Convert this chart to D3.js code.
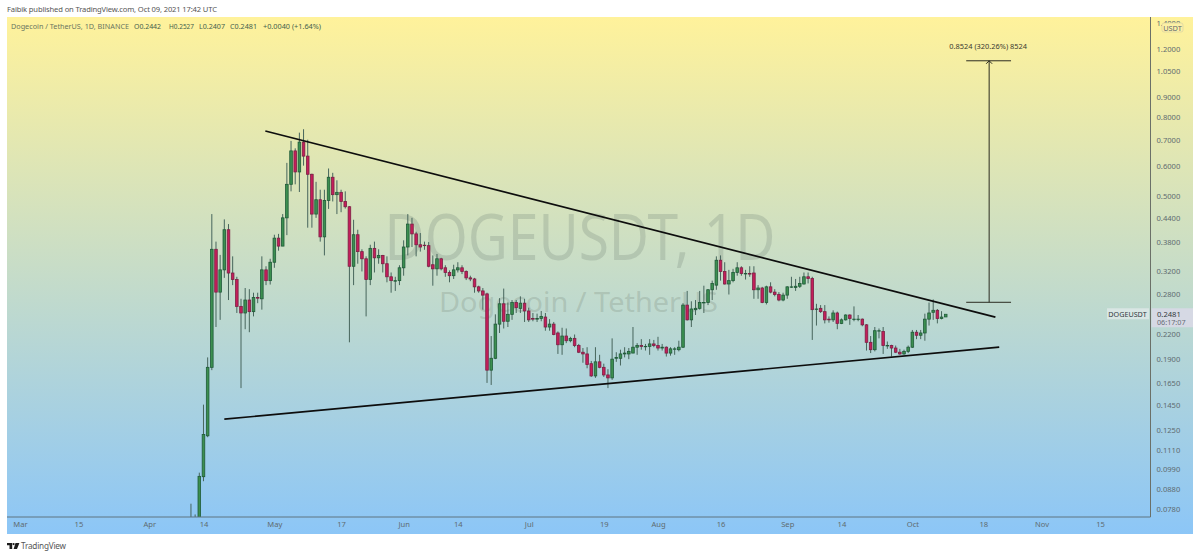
<!DOCTYPE html>
<html>
<head>
<meta charset="utf-8">
<script src="https://cdn.jsdelivr.net/npm/d3@7"></script>
<style>
  body { margin: 0; background: #fff; font-family: "Noto Sans", sans-serif; }
  svg { display: block; }
  .axis text { fill: #5f6b70; font-size: 7.6px; font-family: "Noto Sans", sans-serif; }
  .axis path, .axis line { display: none; }
</style>
</head>
<body>
<div id="chart"></div>
<script>
// first candle on the chart, one candle per day after that
var firstDay = "2021-04-11";

// daily prices, one line per month (Apr 11 .. Oct 9)
var opens = [
  0.070,0.070,0.0695,0.0945,0.1205,0.181,0.365,0.283,0.323,0.41,0.317,0.305,0.26,0.25,0.27,0.252,0.274,0.272,0.323,0.303,
  0.338,0.39,0.372,0.44,0.537,0.655,0.578,0.69,0.635,0.57,0.45,0.49,0.393,0.488,0.56,0.505,0.512,0.485,0.47,0.33,0.398,0.36,0.345,0.305,0.367,0.347,0.352,0.335,0.31,0.302,0.303,
  0.327,0.37,0.424,0.40,0.375,0.374,0.373,0.333,0.325,0.345,0.327,0.318,0.312,0.323,0.327,0.32,0.308,0.306,0.292,0.285,0.28,0.178,0.191,0.234,0.264,0.238,0.248,0.266,0.257,0.265,
  0.253,0.242,0.241,0.242,0.244,0.23,0.234,0.222,0.207,0.218,0.212,0.215,0.206,0.198,0.196,0.185,0.172,0.187,0.181,0.173,0.17,0.191,0.191,0.196,0.196,0.197,0.204,0.206,0.205,0.205,0.208,
  0.206,0.203,0.204,0.197,0.202,0.201,0.204,0.262,0.24,0.255,0.257,0.266,0.266,0.287,0.295,0.342,0.32,0.297,0.303,0.318,0.327,0.316,0.316,0.317,0.287,0.29,0.266,0.292,0.283,0.279,0.27,
  0.278,0.292,0.291,0.293,0.297,0.31,0.307,0.256,0.257,0.252,0.241,0.24,0.25,0.235,0.24,0.247,0.241,0.241,0.241,0.233,0.21,0.201,0.225,0.224,0.206,0.206,0.203,0.198,0.196,0.199,
  0.204,0.223,0.219,0.222,0.241,0.251,0.254,0.242,0.2442
];
var highs = [
  0.0805,0.0755,0.0968,0.145,0.192,0.45,0.382,0.353,0.436,0.424,0.35,0.31,0.272,0.29,0.288,0.282,0.282,0.35,0.33,0.345,
  0.398,0.40,0.45,0.61,0.695,0.665,0.73,0.745,0.70,0.572,0.545,0.52,0.52,0.59,0.575,0.55,0.52,0.515,0.472,0.435,0.41,0.365,0.35,0.375,0.382,0.365,0.353,0.35,0.318,0.31,0.332,
  0.385,0.45,0.44,0.405,0.402,0.382,0.381,0.352,0.355,0.347,0.332,0.322,0.333,0.338,0.332,0.322,0.312,0.308,0.294,0.29,0.282,0.218,0.248,0.273,0.289,0.266,0.27,0.27,0.276,0.272,
  0.258,0.25,0.249,0.253,0.25,0.241,0.237,0.224,0.229,0.228,0.217,0.22,0.208,0.203,0.204,0.188,0.204,0.195,0.185,0.179,0.215,0.198,0.201,0.204,0.203,0.23,0.209,0.214,0.208,0.214,0.213,
  0.217,0.208,0.205,0.204,0.204,0.212,0.265,0.285,0.268,0.27,0.285,0.294,0.288,0.303,0.35,0.352,0.338,0.323,0.325,0.338,0.33,0.323,0.33,0.33,0.295,0.292,0.294,0.30,0.288,0.283,
  0.282,0.293,0.31,0.306,0.31,0.318,0.318,0.31,0.264,0.262,0.262,0.245,0.254,0.252,0.242,0.248,0.248,0.26,0.247,0.242,0.234,0.218,0.23,0.228,0.23,0.211,0.207,0.206,0.202,0.201,
  0.206,0.226,0.226,0.226,0.249,0.266,0.271,0.256,0.2527
];
var lows = [
  0.068,0.066,0.066,0.092,0.1195,0.178,0.23,0.24,0.308,0.27,0.295,0.25,0.16,0.227,0.223,0.245,0.265,0.255,0.295,0.296,
  0.327,0.362,0.372,0.397,0.515,0.537,0.513,0.60,0.415,0.415,0.44,0.382,0.352,0.464,0.485,0.45,0.455,0.465,0.21,0.295,0.335,0.32,0.245,0.295,0.318,0.335,0.318,0.30,0.282,0.285,0.295,
  0.312,0.352,0.37,0.35,0.36,0.364,0.328,0.294,0.312,0.322,0.31,0.30,0.306,0.318,0.315,0.304,0.302,0.282,0.282,0.255,0.165,0.163,0.19,0.222,0.228,0.23,0.24,0.25,0.25,0.237,
  0.237,0.238,0.237,0.238,0.225,0.225,0.219,0.196,0.195,0.209,0.21,0.204,0.197,0.186,0.18,0.171,0.17,0.18,0.171,0.16,0.168,0.187,0.183,0.192,0.19,0.197,0.195,0.201,0.20,0.195,0.204,
  0.20,0.20,0.193,0.194,0.195,0.199,0.203,0.239,0.23,0.247,0.255,0.25,0.262,0.27,0.287,0.303,0.296,0.279,0.30,0.312,0.312,0.305,0.31,0.272,0.272,0.265,0.263,0.281,0.276,0.268,
  0.268,0.272,0.29,0.285,0.29,0.296,0.298,0.213,0.232,0.25,0.235,0.236,0.237,0.227,0.234,0.239,0.233,0.238,0.238,0.231,0.20,0.197,0.199,0.215,0.196,0.202,0.193,0.197,0.195,0.195,
  0.197,0.203,0.214,0.214,0.212,0.232,0.24,0.235,0.2407
];
var closes = [
  0.072,0.069,0.0947,0.1215,0.181,0.365,0.283,0.323,0.41,0.317,0.305,0.26,0.25,0.27,0.252,0.274,0.273,0.323,0.303,0.338,
  0.39,0.372,0.44,0.537,0.655,0.578,0.69,0.635,0.57,0.45,0.49,0.393,0.488,0.56,0.505,0.512,0.485,0.47,0.33,0.398,0.36,0.345,0.305,0.367,0.347,0.352,0.335,0.31,0.303,0.303,0.327,
  0.37,0.424,0.40,0.375,0.37,0.373,0.33,0.325,0.345,0.325,0.318,0.312,0.323,0.327,0.32,0.308,0.306,0.292,0.285,0.278,0.178,0.191,0.234,0.264,0.238,0.248,0.266,0.258,0.265,0.253,
  0.24,0.241,0.242,0.245,0.23,0.234,0.22,0.207,0.218,0.212,0.215,0.206,0.198,0.196,0.184,0.172,0.187,0.181,0.173,0.17,0.19,0.192,0.196,0.197,0.199,0.204,0.206,0.205,0.205,0.208,0.206,
  0.203,0.204,0.197,0.202,0.202,0.204,0.262,0.24,0.256,0.257,0.266,0.266,0.287,0.298,0.342,0.32,0.297,0.303,0.318,0.327,0.316,0.316,0.315,0.287,0.29,0.266,0.292,0.283,0.279,0.27,0.278,
  0.292,0.292,0.293,0.298,0.31,0.307,0.255,0.256,0.252,0.24,0.24,0.25,0.235,0.24,0.247,0.242,0.241,0.241,0.233,0.21,0.201,0.225,0.225,0.206,0.206,0.203,0.198,0.196,0.199,0.204,
  0.223,0.219,0.222,0.241,0.25,0.254,0.242,0.244,0.2481
];

// axis ticks
var priceTicks = [1.4, 1.2, 1.05, 0.9, 0.8, 0.7, 0.6, 0.5, 0.44, 0.38, 0.32, 0.28, 0.22, 0.19, 0.165, 0.145, 0.125, 0.111, 0.099, 0.088, 0.078];
var dateTicks = ["2021-03-01","2021-03-15","2021-04-01","2021-04-14","2021-05-01","2021-05-17","2021-06-01","2021-06-14","2021-07-01","2021-07-19","2021-08-01","2021-08-16","2021-09-01","2021-09-14","2021-10-01","2021-10-18","2021-11-01","2021-11-15"];
var dateLabels = ["Mar","15","Apr","14","May","17","Jun","14","Jul","19","Aug","16","Sep","14","Oct","18","Nov","15"];

// the two hand drawn trend lines and the price range measure
var upperDates = ["2021-04-28T20:00Z", "2021-10-20T22:00Z"];
var upperPrices = [0.737, 0.244];
var lowerDates = ["2021-04-19T00:00Z", "2021-10-21T20:00Z"];
var lowerPrices = [0.133, 0.204];
var measureDates = ["2021-10-13T22:00Z", "2021-10-19T10:00Z", "2021-10-24T16:00Z"];
var measurePrices = [0.2664, 1.1188];
var lastPrice = 0.2481;

// legend pieces, each one starts where the reference has it
var legendParts = ["Dogecoin / TetherUS, 1D, BINANCE", "O0.2442", "H0.2527", "L0.2407", "C0.2481", "+0.0040 (+1.64%)"];
var legendX = [11, 134, 169, 199, 230, 263];
var legendW = [118, 27, 25, 26, 27, 58];

var width = 1200;
var height = 557;

var plotLeft = 7;
var plotRight = 1150.5;
var plotTop = 17;
var plotBottom = 517;
var panelRight = 1193;
var panelBottom = 534;

var parseDay = function(s) { return new Date(s.length === 10 ? s + "T00:00Z" : s); };

var x = d3.scaleUtc()
  .domain([parseDay("2021-03-01"), parseDay("2021-11-15")])
  .range([20, 1100]);

var y = d3.scaleLog()
  .domain([1.2, 0.078])
  .range([49, 509]);

var days = d3.utcDay.range(parseDay(firstDay), d3.utcDay.offset(parseDay(firstDay), opens.length));

var svg = d3.select("#chart").append("svg")
  .attr("width", width)
  .attr("height", height);

var defs = svg.append("defs");

var grad = defs.append("linearGradient")
  .attr("id", "bg")
  .attr("x1", 0).attr("y1", 0)
  .attr("x2", 0).attr("y2", 1);
grad.append("stop").attr("offset", "0%").attr("stop-color", "#fff29b");
grad.append("stop").attr("offset", "100%").attr("stop-color", "#8cc6f7");

defs.append("clipPath").attr("id", "plot")
  .append("rect")
  .attr("x", plotLeft)
  .attr("y", plotTop)
  .attr("width", plotRight - plotLeft)
  .attr("height", plotBottom - plotTop);

// published by line
svg.append("text")
  .attr("x", 7).attr("y", 12)
  .attr("font-size", 7.6)
  .attr("textLength", 210)
  .attr("fill", "#555")
  .text("Faibik published on TradingView.com, Oct 09, 2021 17:42 UTC");

// background panel
svg.append("rect")
  .attr("x", plotLeft)
  .attr("y", plotTop)
  .attr("width", panelRight - plotLeft)
  .attr("height", panelBottom - plotTop)
  .attr("fill", "url(#bg)");

// watermark
svg.append("text")
  .attr("x", 580).attr("y", 260)
  .attr("text-anchor", "middle")
  .attr("font-size", 63)
  .attr("textLength", 391)
  .attr("lengthAdjust", "spacingAndGlyphs")
  .attr("fill", "#7f8f80")
  .attr("fill-opacity", 0.3)
  .text("DOGEUSDT, 1D");

svg.append("text")
  .attr("x", 578.5).attr("y", 312)
  .attr("text-anchor", "middle")
  .attr("font-size", 28)
  .attr("textLength", 279)
  .attr("lengthAdjust", "spacingAndGlyphs")
  .attr("fill", "#7f8f80")
  .attr("fill-opacity", 0.3)
  .text("Dogecoin / TetherUS");

// legend line
svg.append("g").selectAll("text")
  .data(legendParts)
  .enter()
  .append("text")
  .attr("x", function(d, i) { return legendX[i]; })
  .attr("y", 29)
  .attr("font-size", 7.6)
  .attr("textLength", function(d, i) { return legendW[i]; })
  .attr("lengthAdjust", "spacingAndGlyphs")
  .attr("fill", function(d, i) { return i === 0 ? "#6a7560" : "#455f4c"; })
  .text(function(d) { return d; });

// candles
var candles = svg.append("g").attr("clip-path", "url(#plot)");

var candle = candles.selectAll("g")
  .data(days)
  .enter()
  .append("g");

candle.append("line")
  .attr("x1", function(d) { return x(d); })
  .attr("x2", function(d) { return x(d); })
  .attr("y1", function(d, i) { return y(highs[i]); })
  .attr("y2", function(d, i) { return y(lows[i]); })
  .attr("stroke", "#47655c")
  .attr("stroke-width", 1);

candle.append("rect")
  .attr("x", function(d) { return x(d) - 1.3; })
  .attr("width", 2.6)
  .attr("y", function(d, i) { return y(Math.max(opens[i], closes[i])); })
  .attr("height", function(d, i) { return Math.max(0.4, Math.abs(y(opens[i]) - y(closes[i]))); })
  .attr("fill", function(d, i) { return closes[i] >= opens[i] ? "#3c8f50" : "#c41e5a"; })
  .attr("stroke", function(d, i) { return closes[i] >= opens[i] ? "#1f5a38" : "#7c2044"; })
  .attr("stroke-width", 0.8);

// trend lines
function trend(dates, prices) {
  candles.append("line")
    .attr("x1", x(parseDay(dates[0])))
    .attr("y1", y(prices[0]))
    .attr("x2", x(parseDay(dates[1])))
    .attr("y2", y(prices[1]))
    .attr("stroke", "#0d0d0d")
    .attr("stroke-width", 1.7);
}
trend(upperDates, upperPrices);
trend(lowerDates, lowerPrices);

// price range measure
var mLeft = x(parseDay(measureDates[0]));
var mMid = x(parseDay(measureDates[1]));
var mRight = x(parseDay(measureDates[2]));
var mBottom = y(measurePrices[0]);
var mTop = y(measurePrices[1]);

var measure = svg.append("g")
  .attr("fill", "none")
  .attr("stroke", "#2b2b20")
  .attr("stroke-width", 1);
measure.append("line").attr("x1", mLeft).attr("x2", mRight).attr("y1", mTop).attr("y2", mTop);
measure.append("line").attr("x1", mLeft).attr("x2", mRight).attr("y1", mBottom).attr("y2", mBottom);
measure.append("line").attr("x1", mMid).attr("x2", mMid).attr("y1", mTop).attr("y2", mBottom);
measure.append("path")
  .attr("d", "M" + (mMid - 3) + "," + (mTop + 3) + "L" + mMid + "," + mTop + "L" + (mMid + 3) + "," + (mTop + 3));

svg.append("text")
  .attr("x", mMid - 1).attr("y", mTop - 12)
  .attr("text-anchor", "middle")
  .attr("font-size", 7.4)
  .attr("fill", "#3a3a30")
  .text("0.8524 (320.26%) 8524");

// axes
var xAxis = d3.axisBottom(x)
  .tickValues(dateTicks.map(parseDay))
  .tickSize(0)
  .tickPadding(5)
  .tickFormat(function(d, i) { return dateLabels[i]; });

var yAxis = d3.axisRight(y)
  .tickValues(priceTicks)
  .tickSize(0)
  .tickPadding(6)
  .tickFormat(function(d) { return d.toFixed(4); });

svg.append("g")
  .attr("class", "axis")
  .attr("transform", "translate(0," + plotBottom + ")")
  .call(xAxis);

svg.append("g")
  .attr("class", "axis")
  .attr("transform", "translate(" + plotRight + ",0)")
  .call(yAxis);

svg.append("line")
  .attr("x1", plotLeft).attr("x2", plotRight)
  .attr("y1", plotBottom).attr("y2", plotBottom)
  .attr("stroke", "#5f7480");

svg.append("line")
  .attr("x1", plotRight).attr("x2", plotRight)
  .attr("y1", plotTop).attr("y2", plotBottom)
  .attr("stroke", "#6b7068");

// USDT box on top of the scale
svg.append("rect")
  .attr("x", 1162).attr("y", 23)
  .attr("width", 21).attr("height", 9)
  .attr("rx", 2)
  .attr("fill", "#fdf0a5")
  .attr("stroke", "#d8d2a0")
  .attr("stroke-width", 0.7);
svg.append("text")
  .attr("x", 1172.5).attr("y", 30.5)
  .attr("text-anchor", "middle")
  .attr("font-size", 7.4)
  .attr("fill", "#5f6b70")
  .text("USDT");

// last price labels
var lastY = y(lastPrice);

svg.append("rect")
  .attr("x", 1107).attr("y", lastY - 6)
  .attr("width", 42).attr("height", 11)
  .attr("fill", "#d9e6e4");
svg.append("text")
  .attr("x", 1127.5).attr("y", lastY + 2.5)
  .attr("text-anchor", "middle")
  .attr("font-size", 7.2)
  .attr("fill", "#333a40")
  .text("DOGEUSDT");

svg.append("rect")
  .attr("x", 1151.5).attr("y", lastY - 6)
  .attr("width", panelRight - 1151.5).attr("height", 19)
  .attr("fill", "#d6d9e4");
svg.append("text")
  .attr("x", 1157).attr("y", lastY + 2.5)
  .attr("font-size", 7.6)
  .attr("fill", "#333a40")
  .text(lastPrice.toFixed(4));
svg.append("text")
  .attr("x", 1157).attr("y", lastY + 11)
  .attr("font-size", 7.2)
  .attr("fill", "#666c75")
  .text("06:17:07");

// TradingView logo and name
var logo = svg.append("g").attr("fill", "#1c1c1c");
logo.append("path").attr("d", "M7,543H12.2V549H9.5V545.2H7Z");
logo.append("circle").attr("cx", 13.6).attr("cy", 544.1).attr("r", 1.1);
logo.append("path").attr("d", "M15.5,543H19.4L17,549H13.6Z");

svg.append("text")
  .attr("x", 21).attr("y", 549)
  .attr("font-size", 8.2)
  .attr("textLength", 45)
  .attr("fill", "#555")
  .text("TradingView");
</script>
</body>
</html>
